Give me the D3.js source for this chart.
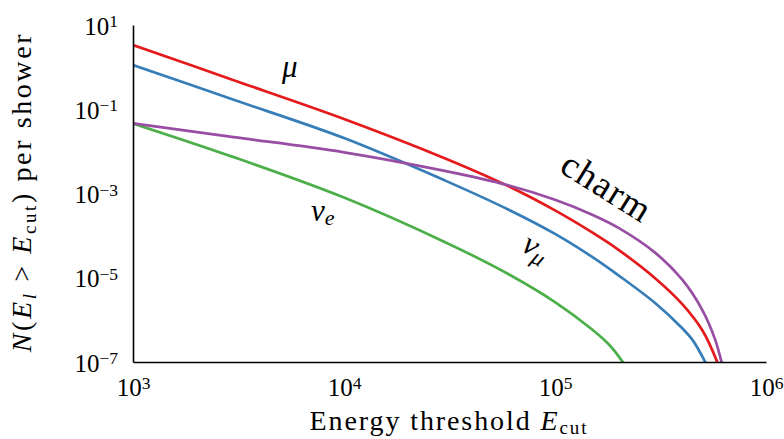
<!DOCTYPE html>
<html>
<head>
<meta charset="utf-8">
<script src="https://cdn.jsdelivr.net/npm/d3@7"></script>
<style>
  html, body { margin: 0; padding: 0; background: #fff; }
  svg { display: block; }
  text { font-family: "Liberation Serif", "DejaVu Serif", serif; fill: #000; }
</style>
</head>
<body>
<svg id="chart" width="784" height="439"></svg>
<script>
// Energy thresholds (GeV) at which each curve is sampled, and the
// mean number of leptons above that threshold per shower
const energyMu     = [1e3, 3e3, 1e4, 3e4, 6e4, 1e5, 1.5e5, 2e5, 3e5, 4e5, 5e5, 5.9e5];
const nMu          = [3.35, 0.49, 0.059, 6.9e-3, 1.5e-3, 3.97e-4, 1.19e-4, 4.6e-5, 9.5e-6, 2.4e-6, 5.6e-7, 9.5e-8];

const energyNuMu   = [1e3, 3e3, 1e4, 3e4, 6e4, 1e5, 1.5e5, 2e5, 3e5, 4e5, 4.5e5, 5.18e5];
const nNuMu        = [1.12, 0.168, 0.0207, 2.05e-3, 4.17e-4, 1.10e-4, 3.13e-5, 1.14e-5, 2.45e-6, 6.4e-7, 3.26e-7, 9.5e-8];

const energyCharm  = [1e3, 3e3, 1e4, 3e4, 6e4, 1e5, 1.5e5, 2e5, 3e5, 4e5, 5e5, 5.73e5, 6.17e5];
const nCharm       = [0.046, 0.0218, 9.5e-3, 3.44e-3, 1.57e-3, 7.1e-4, 3.14e-4, 1.53e-4, 3.85e-5, 9.1e-6, 1.69e-6, 3.5e-7, 9.5e-8];

const energyNuE    = [1e3, 3e3, 1e4, 3e4, 6e4, 1e5, 1.5e5, 1.82e5, 2.11e5];
const nNuE         = [0.046, 7.3e-3, 8.0e-4, 7.06e-5, 1.23e-5, 2.65e-6, 5.9e-7, 2.47e-7, 9.5e-8];

const xTickValues  = [1e3, 1e4, 1e5, 1e6];
const xTickExps    = ["3", "4", "5", "6"];
const yTickValues  = [1e1, 1e-1, 1e-3, 1e-5, 1e-7];
const yTickExps    = ["1", "\u22121", "\u22123", "\u22125", "\u22127"];

const seriesColors = { mu: "#e41a1c", nuMu: "#377eb8", charm: "#984ea3", nuE: "#4daf4a" };

const svg = d3.select("#chart");
const margin = { left: 133, right: 18, top: 25, bottom: 77 };
const W = 784, H = 439;

const x = d3.scaleLog().domain([1e3, 1e6]).range([margin.left, W - margin.right]);
const y = d3.scaleLog().domain([1e-7, 1e1]).range([H - margin.bottom, margin.top]);

svg.append("defs").append("clipPath").attr("id", "plot-clip")
  .append("rect")
  .attr("x", x.range()[0]).attr("y", y.range()[1])
  .attr("width", x.range()[1] - x.range()[0])
  .attr("height", y.range()[0] - y.range()[1]);

const line = d3.line()
  .x(d => x(d[0]))
  .y(d => y(d[1]))
  .curve(d3.curveCatmullRom.alpha(0.5));

const series = [
  { key: "nuE",   e: energyNuE,   n: nNuE },
  { key: "nuMu",  e: energyNuMu,  n: nNuMu },
  { key: "mu",    e: energyMu,    n: nMu },
  { key: "charm", e: energyCharm, n: nCharm }
];

const curves = svg.append("g").attr("clip-path", "url(#plot-clip)");
series.forEach(s => {
  curves.append("path")
    .datum(d3.zip(s.e, s.n))
    .attr("d", line)
    .attr("fill", "none")
    .attr("stroke", seriesColors[s.key])
    .attr("stroke-width", 2.7);
});

// Axes: only the spines, no tick marks
const fontSize = 25;
const xAxis = svg.append("g")
  .attr("transform", `translate(0,${y.range()[0]})`)
  .call(d3.axisBottom(x).tickValues(xTickValues).tickSize(0).tickPadding(0));
const yAxis = svg.append("g")
  .attr("transform", `translate(${x.range()[0]},0)`)
  .call(d3.axisLeft(y).tickValues(yTickValues).tickSize(0).tickPadding(0));

[xAxis, yAxis].forEach(g => {
  g.select(".domain").attr("stroke", "#000").attr("stroke-width", 1.6);
  g.selectAll(".tick text").remove();
});

function powerLabel(sel, exp) {
  sel.append("tspan").text("10");
  sel.append("tspan").attr("dy", "-0.42em").attr("font-size", "0.7em").text(exp);
}

xAxis.selectAll(".tick").each(function (d, i) {
  const t = d3.select(this).append("text")
    .attr("font-size", fontSize)
    .attr("text-anchor", "middle")
    .attr("x", 0)
    .attr("y", 34);
  powerLabel(t, xTickExps[i]);
});

yAxis.selectAll(".tick").each(function (d, i) {
  const t = d3.select(this).append("text")
    .attr("font-size", fontSize)
    .attr("text-anchor", "end")
    .attr("x", -15)
    .attr("y", 9);
  powerLabel(t, yTickExps[i]);
});

// Axis titles
const xTitle = svg.append("text")
  .attr("font-size", 28)
  .attr("letter-spacing", 1.9)
  .attr("text-anchor", "middle")
  .attr("x", 449)
  .attr("y", 430);
xTitle.append("tspan").text("Energy threshold ");
xTitle.append("tspan").attr("font-style", "italic").text("E");
xTitle.append("tspan").attr("font-size", 19).attr("dy", 4).text("cut");

const yTitle = svg.append("text")
  .attr("font-size", 28)
  .attr("letter-spacing", 2.6)
  .attr("text-anchor", "middle")
  .attr("transform", "translate(31,192) rotate(-90)");
yTitle.append("tspan").attr("font-style", "italic").text("N");
yTitle.append("tspan").text("(");
yTitle.append("tspan").attr("font-style", "italic").text("E");
yTitle.append("tspan").attr("font-style", "italic").attr("font-size", 19).attr("dy", 5).text("l");
yTitle.append("tspan").attr("dy", -5).text(" > ");
yTitle.append("tspan").attr("font-style", "italic").text("E");
yTitle.append("tspan").attr("font-size", 19).attr("dy", 5).text("cut");
yTitle.append("tspan").attr("dy", -5).text(")  per shower");

// Curve labels
svg.append("text")
  .attr("font-size", 31).attr("font-style", "italic")
  .attr("fill", seriesColors.mu)
  .attr("x", 282).attr("y", 77)
  .text("\u03bc");

const nuELabel = svg.append("text")
  .attr("font-size", 31).attr("font-style", "italic")
  .attr("fill", seriesColors.nuE)
  .attr("x", 311).attr("y", 221);
nuELabel.append("tspan").text("\u03bd");
nuELabel.append("tspan").attr("font-size", 22).attr("dy", 4).text("e");

const nuMuLabel = svg.append("text")
  .attr("font-size", 32).attr("font-style", "italic")
  .attr("fill", seriesColors.nuMu)
  .attr("transform", "translate(520,250) rotate(30)");
nuMuLabel.append("tspan").text("\u03bd");
nuMuLabel.append("tspan").attr("font-size", 23).attr("dy", 5).text("\u03bc");

svg.append("text")
  .attr("font-size", 37)
  .attr("letter-spacing", 1.5)
  .attr("fill", seriesColors.charm)
  .attr("transform", "translate(558,171) rotate(32)")
  .text("charm");
</script>
</body>
</html>
